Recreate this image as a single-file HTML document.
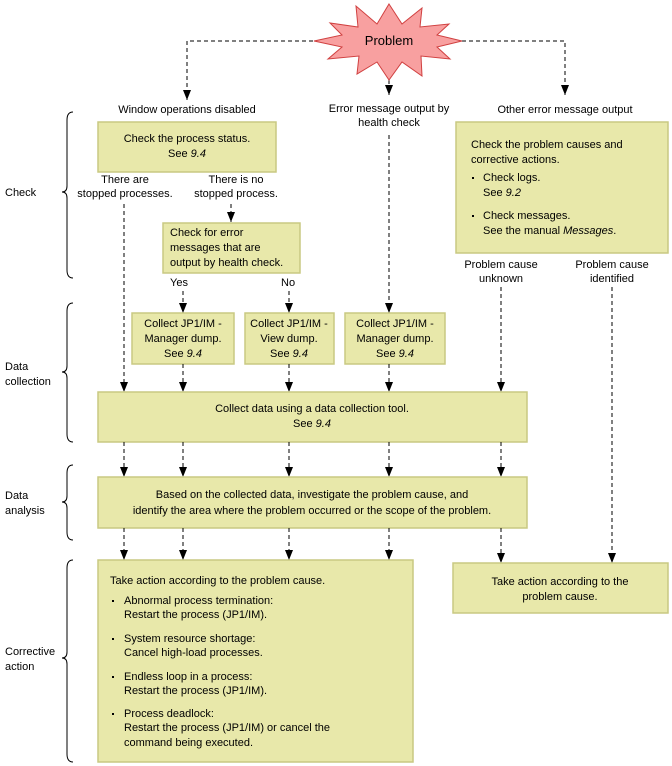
<!DOCTYPE html>
<html><head><meta charset="utf-8"><style>
body{margin:0;background:#fff}
svg{display:block;font-family:"Liberation Sans",sans-serif;font-size:11px}
.b{fill:#e8e8aa;stroke:#c9c982;stroke-width:1.5}
.d{stroke:#000;stroke-width:1;stroke-dasharray:4,3;fill:none}
.br{fill:none;stroke:#000;stroke-width:1}
</style></head><body>
<svg width="672" height="766" viewBox="0 0 672 766">
<defs>
<marker id="a" markerWidth="8" markerHeight="10" refX="4" refY="10" orient="0" markerUnits="userSpaceOnUse"><path d="M0,0 L8,0 L4,10 Z" fill="#000"/></marker>
</defs>
<!-- top connectors -->
<path class="d" d="M320,41 H187 V100" marker-end="url(#a)"/>
<path class="d" d="M455,41 H565 V95" marker-end="url(#a)"/>
<path class="d" d="M389,80 V95" marker-end="url(#a)"/>
<!-- star -->
<polygon points="389,4 402,24 422,8 420,27 449,24 437,35 462,41 437,47 450,59 421,56 422,76 402,62 389,80 377,62 357,74 359,56 328,59 342,47 314,41 342,35 330,23 358,27 356,6 377,24" fill="#f8a0a0" stroke="#d04040" stroke-width="1"/>
<text x="389" y="45" text-anchor="middle" font-size="13">Problem</text>
<!-- labels -->
<text x="187" y="113" text-anchor="middle">Window operations disabled</text>
<text x="389" y="112" text-anchor="middle">Error message output by</text>
<text x="389" y="126" text-anchor="middle">health check</text>
<text x="565" y="113" text-anchor="middle">Other error message output</text>
<!-- box1 -->
<rect class="b" x="98" y="122" width="178" height="50"/>
<text x="187" y="142" text-anchor="middle">Check the process status.</text>
<text x="187" y="157" text-anchor="middle">See <tspan font-style="italic">9.4</tspan></text>
<text x="125" y="183" text-anchor="middle">There are</text>
<text x="125" y="197" text-anchor="middle">stopped processes.</text>
<text x="236" y="183" text-anchor="middle">There is no</text>
<text x="236" y="197" text-anchor="middle">stopped process.</text>
<path class="d" d="M231,204 V222" marker-end="url(#a)"/>
<rect class="b" x="163" y="223" width="137" height="50"/>
<text x="170" y="236">Check for error</text>
<text x="170" y="251">messages that are</text>
<text x="170" y="266">output by health check.</text>
<text x="170" y="286">Yes</text>
<text x="281" y="286">No</text>
<!-- right box -->
<rect class="b" x="456" y="122" width="212" height="131"/>
<text x="471" y="148">Check the problem causes and</text>
<text x="471" y="163">corrective actions.</text>
<rect x="472" y="177" width="2" height="2" fill="#000"/>
<text x="483" y="181">Check logs.</text>
<text x="483" y="196">See <tspan font-style="italic">9.2</tspan></text>
<rect x="472" y="215" width="2" height="2" fill="#000"/>
<text x="483" y="219">Check messages.</text>
<text x="483" y="234">See the manual <tspan font-style="italic">Messages</tspan>.</text>
<text x="501" y="268" text-anchor="middle">Problem cause</text>
<text x="501" y="282" text-anchor="middle">unknown</text>
<text x="612" y="268" text-anchor="middle">Problem cause</text>
<text x="612" y="282" text-anchor="middle">identified</text>
<!-- verticals -->
<path class="d" d="M124,204 V392" marker-end="url(#a)"/>
<path class="d" d="M183,291 V313" marker-end="url(#a)"/>
<path class="d" d="M289,291 V313" marker-end="url(#a)"/>
<path class="d" d="M389,135 V313" marker-end="url(#a)"/>
<path class="d" d="M501,287 V392" marker-end="url(#a)"/>
<rect class="b" x="132" y="313" width="102" height="51"/>
<text x="183" y="327" text-anchor="middle">Collect JP1/IM -</text>
<text x="183" y="342" text-anchor="middle">Manager dump.</text>
<text x="183" y="357" text-anchor="middle">See <tspan font-style="italic">9.4</tspan></text>
<rect class="b" x="245" y="313" width="89" height="51"/>
<text x="289" y="327" text-anchor="middle">Collect JP1/IM -</text>
<text x="289" y="342" text-anchor="middle">View dump.</text>
<text x="289" y="357" text-anchor="middle">See <tspan font-style="italic">9.4</tspan></text>
<rect class="b" x="345" y="313" width="100" height="51"/>
<text x="395" y="327" text-anchor="middle">Collect JP1/IM -</text>
<text x="395" y="342" text-anchor="middle">Manager dump.</text>
<text x="395" y="357" text-anchor="middle">See <tspan font-style="italic">9.4</tspan></text>
<path class="d" d="M183,364 V392" marker-end="url(#a)"/>
<path class="d" d="M289,364 V392" marker-end="url(#a)"/>
<path class="d" d="M389,364 V392" marker-end="url(#a)"/>
<rect class="b" x="98" y="392" width="429" height="50"/>
<text x="312" y="412" text-anchor="middle">Collect data using a data collection tool.</text>
<text x="312" y="427" text-anchor="middle">See <tspan font-style="italic">9.4</tspan></text>
<path class="d" d="M124,442 V477" marker-end="url(#a)"/>
<path class="d" d="M183,442 V477" marker-end="url(#a)"/>
<path class="d" d="M289,442 V477" marker-end="url(#a)"/>
<path class="d" d="M389,442 V477" marker-end="url(#a)"/>
<path class="d" d="M501,442 V477" marker-end="url(#a)"/>
<rect class="b" x="98" y="477" width="429" height="51"/>
<text x="312" y="498" text-anchor="middle">Based on the collected data, investigate the problem cause, and</text>
<text x="312" y="514" text-anchor="middle">identify the area where the problem occurred or the scope of the problem.</text>
<path class="d" d="M124,528 V560" marker-end="url(#a)"/>
<path class="d" d="M183,528 V560" marker-end="url(#a)"/>
<path class="d" d="M289,528 V560" marker-end="url(#a)"/>
<path class="d" d="M389,528 V560" marker-end="url(#a)"/>
<path class="d" d="M501,528 V563" marker-end="url(#a)"/>
<path class="d" d="M612,287 V563" marker-end="url(#a)"/>
<rect class="b" x="98" y="560" width="315" height="202"/>
<text x="110" y="584">Take action according to the problem cause.</text>
<g>
<rect x="112" y="600" width="2" height="2" fill="#000"/>
<text x="124" y="604">Abnormal process termination:</text>
<text x="124" y="618">Restart the process (JP1/IM).</text>
<rect x="112" y="638" width="2" height="2" fill="#000"/>
<text x="124" y="642">System resource shortage:</text>
<text x="124" y="656">Cancel high-load processes.</text>
<rect x="112" y="676" width="2" height="2" fill="#000"/>
<text x="124" y="680">Endless loop in a process:</text>
<text x="124" y="694">Restart the process (JP1/IM).</text>
<rect x="112" y="713" width="2" height="2" fill="#000"/>
<text x="124" y="717">Process deadlock:</text>
<text x="124" y="731">Restart the process (JP1/IM) or cancel the</text>
<text x="124" y="746">command being executed.</text>
</g>
<rect class="b" x="453" y="563" width="215" height="50"/>
<text x="560" y="585" text-anchor="middle">Take action according to the</text>
<text x="560" y="600" text-anchor="middle">problem cause.</text>
<!-- braces -->
<path class="br" d="M73,112 Q67,112 67,120 V186 Q67,192 62,192 Q67,192 67,198 V270 Q67,278 73,278"/>
<path class="br" d="M73,303 Q67,303 67,311 V366 Q67,372 62,372 Q67,372 67,378 V434 Q67,442 73,442"/>
<path class="br" d="M73,465 Q67,465 67,473 V496 Q67,502 62,502 Q67,502 67,508 V532 Q67,540 73,540"/>
<path class="br" d="M73,560 Q67,560 67,568 V652 Q67,658 62,658 Q67,658 67,664 V754 Q67,762 73,762"/>
<text x="5" y="196">Check</text>
<text x="5" y="370">Data</text>
<text x="5" y="385">collection</text>
<text x="5" y="499">Data</text>
<text x="5" y="514">analysis</text>
<text x="5" y="655">Corrective</text>
<text x="5" y="670">action</text>
</svg>
</body></html>
